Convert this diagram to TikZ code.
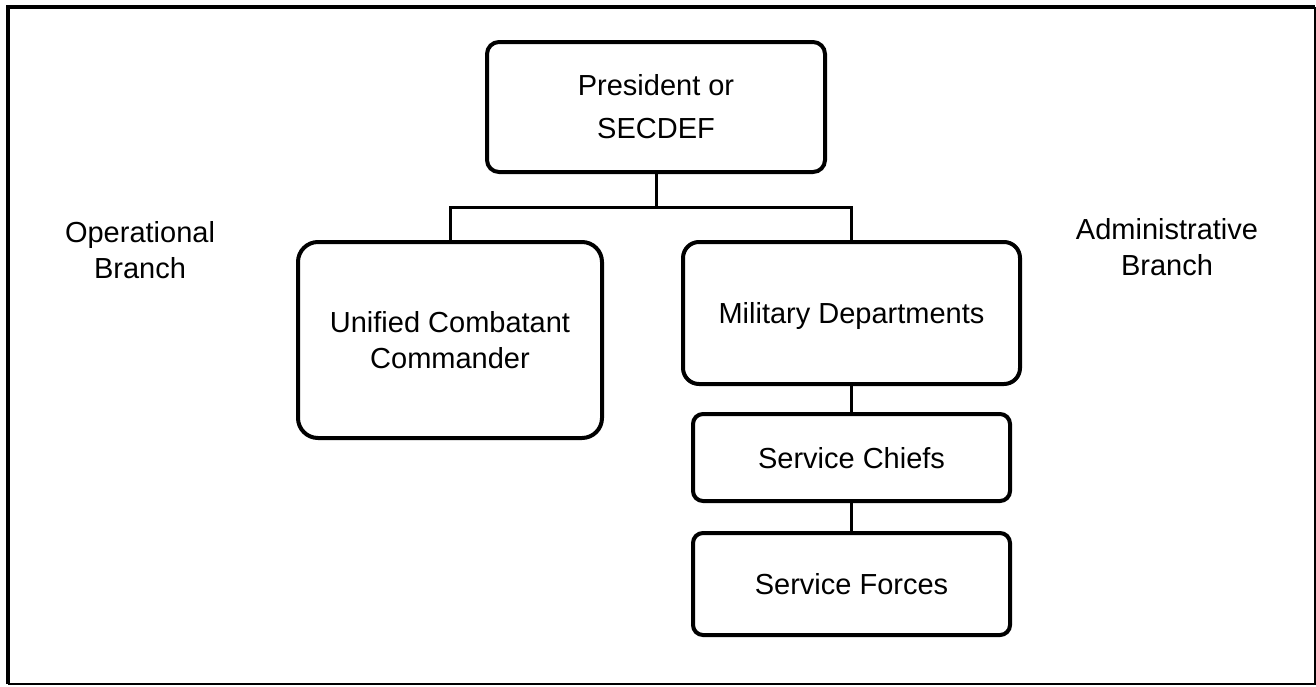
\documentclass[tikz,border=0pt]{standalone}
\usepackage{fontspec}
\setmainfont{Liberation Sans}
\begin{document}
\begin{tikzpicture}[x=1pt,y=-1pt,
  box/.style={draw, line width=4pt, inner sep=0pt, font=\fontsize{29}{36}\selectfont},
  oneline/.style={text height=21pt, text depth=0pt},
  conn/.style={line width=3pt},
  lbl/.style={align=center, inner sep=0pt, font=\fontsize{29}{36}\selectfont}]
\useasboundingbox (0,0) rectangle (1316,686);
% outer frame
\draw[line width=4pt] (8,684) -- (8,7) -- (1315,7);
\draw[line width=2pt] (1315,7) -- (1315,684) -- (8,684);
% boxes
\node[box, align=center, minimum width=338pt, minimum height=130pt, rounded corners=12pt,
      font=\fontsize{29}{43}\selectfont] (pres) at (656,107) {President or\\SECDEF};
\node[box, align=center, minimum width=304pt, minimum height=196pt, rounded corners=20pt] (ucc) at (450,340) {Unified Combatant\\Commander};
\node[box, oneline, minimum width=337pt, minimum height=142pt, rounded corners=16pt] (md) at (851.5,313) {Military Departments};
\node[box, oneline, minimum width=317pt, minimum height=87pt, rounded corners=10pt] (sc) at (851.5,457.5) {Service Chiefs};
\node[box, oneline, minimum width=317pt, minimum height=102pt, rounded corners=10pt] (sf) at (851.5,584) {Service Forces};
% labels
\node[lbl] (op) at (140,250) {Operational\\Branch};
\node[lbl] (ad) at (1167,247) {Administrative\\Branch};
% connectors
\coordinate (j) at (656,207);
\draw[conn] (pres.south) -- (j);
\draw[conn] (ucc.north) |- (j) -| (md.north);
\draw[conn] (md.south) -- (sc.north);
\draw[conn] (sc.south) -- (sf.north);
\end{tikzpicture}
\end{document}
